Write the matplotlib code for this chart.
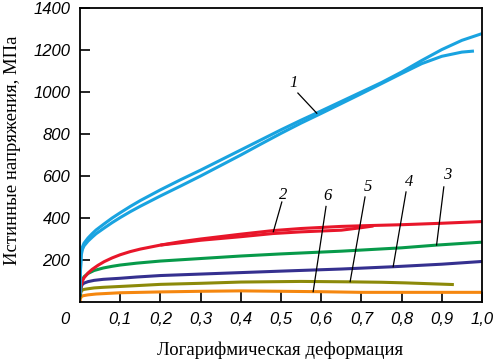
import matplotlib
matplotlib.use("Agg")
import matplotlib.pyplot as plt

# --- curve data (log strain, true stress MPa) ---
x_1a = [0, 0.001, 0.003, 0.006, 0.01, 0.02, 0.03, 0.04, 0.06, 0.08, 0.1, 0.125, 0.15, 0.2,
        0.25, 0.3, 0.35, 0.4, 0.45, 0.5, 0.55, 0.6, 0.65, 0.7, 0.75, 0.8, 0.85, 0.9, 0.95, 1.0]
y_1a = [40, 150, 235, 262, 280, 305, 325, 343, 372, 400, 425, 455, 483, 534,
        582, 628, 676, 724, 772, 820, 866, 910, 955, 1000, 1045, 1095, 1150, 1202, 1246, 1278]
x_1b = [0, 0.001, 0.003, 0.006, 0.01, 0.02, 0.03, 0.04, 0.06, 0.08, 0.1, 0.125, 0.15, 0.2,
        0.25, 0.3, 0.35, 0.4, 0.45, 0.5, 0.55, 0.6, 0.65, 0.7, 0.75, 0.8, 0.85, 0.9, 0.95, 0.98]
y_1b = [40, 140, 222, 250, 267, 290, 308, 325, 352, 378, 402, 430, 456, 505,
        552, 600, 650, 700, 752, 803, 852, 898, 945, 992, 1040, 1088, 1135, 1170, 1190, 1195]

x_2a = [0, 0.003, 0.006, 0.01, 0.02, 0.03, 0.045, 0.06, 0.08, 0.1, 0.125, 0.15, 0.2, 0.25,
        0.3, 0.4, 0.48, 0.55, 0.65, 0.72, 0.8, 0.9, 1.0]
y_2a = [40, 80, 100, 115, 138, 155, 175, 192, 210, 225, 240, 252, 271, 287,
        300, 323, 340, 350, 360, 364, 368, 375, 383]
x_2b = [0.2, 0.25, 0.3, 0.4, 0.48, 0.55, 0.65, 0.7, 0.73]
y_2b = [271, 282, 294, 311, 326, 334, 342, 354, 362]

x_3 = [0, 0.003, 0.006, 0.01, 0.02, 0.035, 0.058, 0.08, 0.1, 0.141, 0.2, 0.3, 0.4, 0.5,
       0.65, 0.8, 0.887, 1.0]
y_3 = [30, 85, 105, 120, 136, 150, 162, 170, 176, 185, 195, 207, 219, 229,
       242, 258, 271, 285]

x_4 = [0, 0.002, 0.005, 0.01, 0.02, 0.035, 0.058, 0.1, 0.141, 0.2, 0.3, 0.4, 0.5, 0.65,
       0.78, 0.9, 1.0]
y_4 = [25, 65, 82, 90, 97, 103, 108, 113, 119, 126, 133, 140, 147, 157,
       168, 180, 193]

x_5 = [0, 0.002, 0.005, 0.01, 0.02, 0.035, 0.058, 0.1, 0.141, 0.2, 0.3, 0.4, 0.55, 0.67,
       0.75, 0.81, 0.87, 0.93]
y_5 = [15, 45, 56, 60, 63, 67, 70, 74, 78, 84, 89, 95, 98, 96,
       94, 91, 87, 83]

x_6 = [0, 0.001, 0.003, 0.008, 0.02, 0.04, 0.07, 0.1, 0.2, 0.3, 0.4, 0.5, 0.6, 0.7, 0.85, 1.0]
y_6 = [0, 15, 25, 30, 34, 38, 41, 44, 48, 51, 53, 51, 49, 46, 46, 46]

x_ticks = [0.1, 0.2, 0.3, 0.4, 0.5, 0.6, 0.7, 0.8, 0.9, 1.0]
x_ticklabels = ["0,1", "0,2", "0,3", "0,4", "0,5", "0,6", "0,7", "0,8", "0,9", "1,0"]
y_ticks = [200, 400, 600, 800, 1000, 1200, 1400]

# curve number, text position, pointer start, pointer end
labels = ["1", "2", "3", "4", "5", "6"]
label_xy = [(0.531, 1044), (0.506, 510), (0.913, 605), (0.818, 570), (0.716, 548), (0.616, 505)]
ptr_from = [(0.542, 995), (0.502, 476), (0.905, 548), (0.811, 524), (0.709, 500), (0.612, 455)]
ptr_to = [(0.589, 899), (0.481, 335), (0.887, 271), (0.779, 168), (0.672, 97), (0.580, 49)]

BLUE = "#19a3e0"
RED = "#e8162a"
GREEN = "#079a4a"
PURPLE = "#35308f"
OLIVE = "#8c8a0a"
ORANGE = "#f5870f"

fig = plt.figure(figsize=(4.94, 3.6), dpi=100)
ax = fig.add_axes([80 / 494, 58 / 360, 402 / 494, 294 / 360])

lw = 2.2
ax.plot(x_6, y_6, color=ORANGE, lw=lw, solid_capstyle="butt")
ax.plot(x_5, y_5, color=OLIVE, lw=lw, solid_capstyle="butt")
ax.plot(x_4, y_4, color=PURPLE, lw=lw, solid_capstyle="butt")
ax.plot(x_3, y_3, color=GREEN, lw=lw, solid_capstyle="butt")
ax.plot(x_2b, y_2b, color=RED, lw=lw, solid_capstyle="butt")
ax.plot(x_2a, y_2a, color=RED, lw=lw, solid_capstyle="butt")
ax.plot(x_1b, y_1b, color=BLUE, lw=lw, solid_capstyle="butt")
ax.plot(x_1a, y_1a, color=BLUE, lw=lw, solid_capstyle="butt")

for lab, (tx, ty), (x0, y0), (x1, y1) in zip(labels, label_xy, ptr_from, ptr_to):
    ax.plot([x0, x1], [y0, y1], color="black", lw=0.9)
    ax.text(tx, ty, lab, ha="center", va="center", fontsize=12,
            family="Liberation Serif", style="italic")

ax.set_xlim(0, 1.0)
ax.set_ylim(0, 1400)
ax.set_xticks(x_ticks)
ax.set_xticklabels(x_ticklabels)
ax.set_yticks(y_ticks)
ax.tick_params(direction="in", length=7, width=1.2, pad=7)
for t in ax.get_xticklabels() + ax.get_yticklabels():
    t.set_family("Liberation Sans")
    t.set_style("italic")
    t.set_fontsize(12)
for s in ax.spines.values():
    s.set_linewidth(1.3)

fig.text(65 / 494, 1 - 320 / 360, "0", ha="center", va="center", fontsize=12,
         family="Liberation Sans", style="italic")
fig.text(280 / 494, 1 - 350 / 360, "Логарифмическая деформация", ha="center", va="center",
         fontsize=13.5, family="Liberation Serif")
fig.text(13 / 494, 1 - 150 / 360, "Истинные напряжения, МПа", ha="center", va="center",
         rotation=90, fontsize=13.5, family="Liberation Serif")

fig.savefig("out.png", dpi=100)
